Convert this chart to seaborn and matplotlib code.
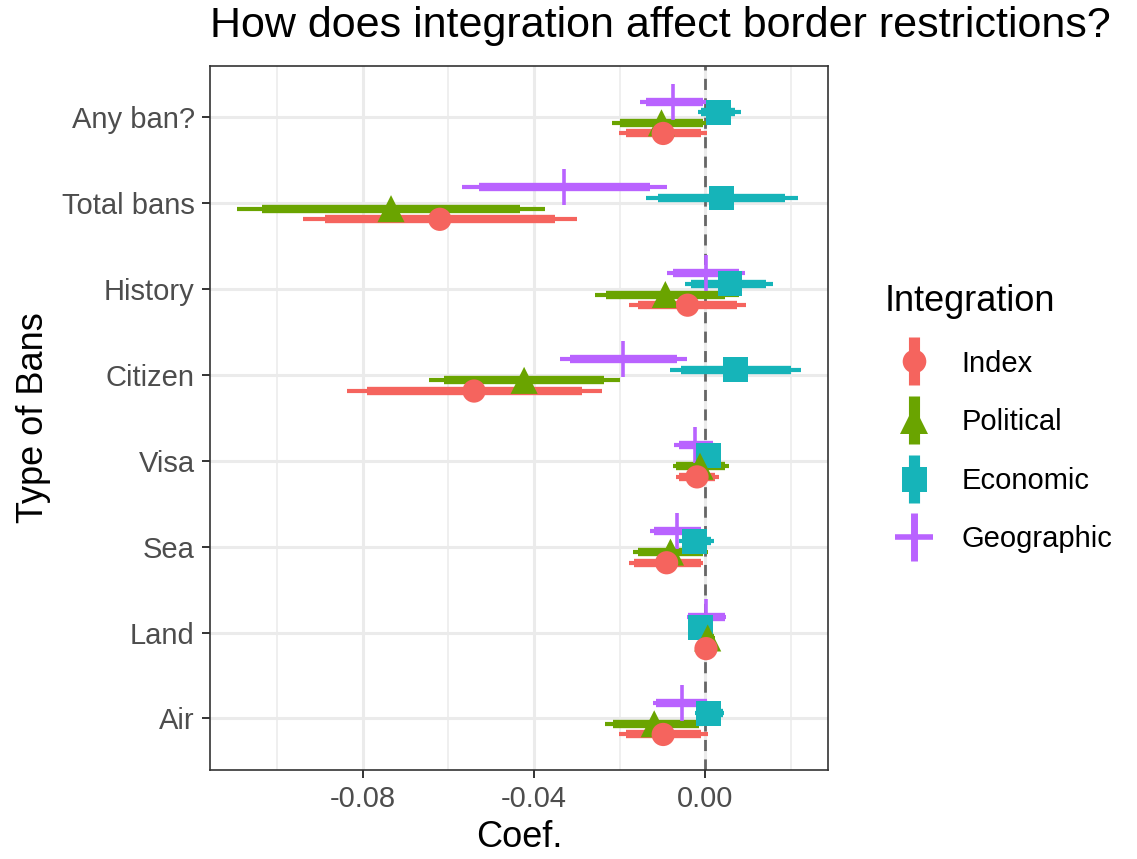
import matplotlib
matplotlib.use("Agg")
import matplotlib.pyplot as plt
from matplotlib.lines import Line2D
from matplotlib.legend_handler import HandlerTuple
import seaborn as sns
import pandas as pd

# ----------------------------------------
# data
# ----------------------------------------
bans = ["Any ban?", "Total bans", "History", "Citizen", "Visa", "Sea", "Land", "Air"]
groups = ["Index", "Political", "Economic", "Geographic"]

coef = {
    "Index":      [-0.0098, -0.0620, -0.0041, -0.0540, -0.0019, -0.0090, 0.0002, -0.0098],
    "Political":  [-0.0102, -0.0734, -0.0093, -0.0423, -0.0012, -0.0081, 0.0006, -0.0119],
    "Economic":   [0.0032, 0.0039, 0.0058, 0.0070, 0.0008, -0.0024, -0.0010, 0.0008],
    "Geographic": [-0.0075, -0.0329, 0.0002, -0.0192, -0.0023, -0.0065, 0.0002, -0.0055],
}
lo90 = {
    "Index":      [-0.0185, -0.0888, -0.0156, -0.0791, -0.0060, -0.0166, -0.0008, -0.0186],
    "Political":  [-0.0199, -0.1035, -0.0232, -0.0610, -0.0067, -0.0156, -0.0010, -0.0215],
    "Economic":   [-0.0010, -0.0111, -0.0032, -0.0057, -0.0015, -0.0055, -0.0035, -0.0020],
    "Geographic": [-0.0139, -0.0528, -0.0076, -0.0316, -0.0062, -0.0119, -0.0041, -0.0114],
}
hi90 = {
    "Index":      [-0.0010, -0.0352, 0.0075, -0.0288, 0.0024, -0.0010, 0.0012, -0.0010],
    "Political":  [-0.0006, -0.0433, 0.0046, -0.0236, 0.0046, -0.0006, 0.0020, -0.0015],
    "Economic":   [0.0070, 0.0187, 0.0143, 0.0200, 0.0032, 0.0013, 0.0015, 0.0041],
    "Geographic": [-0.0006, -0.0128, 0.0079, -0.0066, 0.0018, -0.0010, 0.0046, 0.0004],
}
lo95 = {
    "Index":      [-0.0202, -0.0939, -0.0178, -0.0838, -0.0069, -0.0179, -0.0010, -0.0202],
    "Political":  [-0.0218, -0.1093, -0.0258, -0.0646, -0.0076, -0.0168, -0.0012, -0.0234],
    "Economic":   [-0.0017, -0.0139, -0.0047, -0.0083, -0.0017, -0.0060, -0.0038, -0.0024],
    "Geographic": [-0.0152, -0.0568, -0.0090, -0.0340, -0.0072, -0.0130, -0.0043, -0.0123],
}
hi95 = {
    "Index":      [0.0004, -0.0300, 0.0096, -0.0241, 0.0032, -0.0004, 0.0014, 0.0006],
    "Political":  [0.0006, -0.0375, 0.0079, -0.0200, 0.0056, 0.0006, 0.0022, -0.0006],
    "Economic":   [0.0084, 0.0217, 0.0159, 0.0224, 0.0034, 0.0021, 0.0018, 0.0045],
    "Geographic": [0.0002, -0.0089, 0.0094, -0.0043, 0.0023, -0.0006, 0.0048, 0.0006],
}

palette = {"Index": "#F5645E", "Political": "#6AA400", "Economic": "#16B4B9", "Geographic": "#B963FF"}
markers = {"Index": "o", "Political": "^", "Economic": "s", "Geographic": "+"}
dodge = {"Index": 0.186, "Political": 0.062, "Economic": -0.062, "Geographic": -0.186}

rows = []
for g in groups:
    for i, b in enumerate(bans):
        rows.append({"ban": b, "group": g, "pos": i + dodge[g], "coef": coef[g][i],
                     "lo90": lo90[g][i], "hi90": hi90[g][i],
                     "lo95": lo95[g][i], "hi95": hi95[g][i]})
df = pd.DataFrame(rows)

# ----------------------------------------
# figure
# ----------------------------------------
sns.set_style("white")
plt.rcParams["font.family"] = ["Liberation Sans", "DejaVu Sans"]
plt.rcParams["text.color"] = "black"
plt.rcParams["axes.labelcolor"] = "black"

fig = plt.figure(figsize=(11.37, 8.59), dpi=100)
ax = fig.add_axes([0.1847, 0.1036, 0.5435, 0.8196])

# grid
for x in [-0.10, -0.06, -0.02, 0.02]:
    ax.axvline(x, color="#EBEBEB", lw=1.1, zorder=0)
for x in [-0.08, -0.04, 0.00]:
    ax.axvline(x, color="#EBEBEB", lw=2.2, zorder=0)
for y in range(len(bans)):
    ax.axhline(y, color="#EBEBEB", lw=2.2, zorder=0)

ax.axvline(0, color="#666666", lw=2.0, ls=(0, (4, 3)), zorder=1)

order = ["Geographic", "Economic", "Political", "Index"]
for g in order:
    sub = df[df["group"] == g]
    ax.hlines(sub["pos"], sub["lo95"], sub["hi95"], color=palette[g], lw=3.0, zorder=2)
    ax.hlines(sub["pos"], sub["lo90"], sub["hi90"], color=palette[g], lw=6.0, zorder=2)

sizes = {"Index": 280, "Political": 380, "Economic": 320, "Geographic": 700}
for g in order:
    sub = df[df["group"] == g]
    sns.scatterplot(data=sub, x="coef", y="pos", color=palette[g], marker=markers[g],
                    s=sizes[g], linewidth=2.6 if g == "Geographic" else 0,
                    edgecolor=palette[g] if g == "Geographic" else "none",
                    ax=ax, zorder=3, legend=False)

ax.set_xlim(-0.1157, 0.0287)
ax.set_ylim(len(bans) - 1 + 0.6, -0.6)
ax.set_xticks([-0.08, -0.04, 0.00])
ax.set_xticklabels(["-0.08", "-0.04", "0.00"])
ax.set_yticks(range(len(bans)))
ax.set_yticklabels(bans)
ax.tick_params(axis="both", which="major", labelsize=21, labelcolor="#4D4D4D",
               color="#333333", length=6, width=1.4, direction="out",
               bottom=True, left=True, pad=5)
for sp in ax.spines.values():
    sp.set_color("#333333")
    sp.set_linewidth(1.2)

ax.set_xlabel("Coef.", fontsize=26, labelpad=5)
ax.set_ylabel("Type of Bans", fontsize=26, labelpad=8)

fig.text(0.1847, 0.957, "How does integration affect border restrictions?",
         fontsize=31, ha="left", va="baseline")

# legend
handles = []
for g in groups:
    bar = Line2D([], [], color=palette[g], marker="|", markersize=34,
                 markeredgewidth=8 if g != "Geographic" else 5, linestyle="None")
    if g == "Geographic":
        pt = Line2D([], [], color=palette[g], marker="_", markersize=28,
                    markeredgewidth=4, linestyle="None")
    else:
        pt = Line2D([], [], color=palette[g], marker=markers[g],
                    markersize={"Index": 17, "Political": 20, "Economic": 18}[g],
                    markeredgewidth=0, linestyle="None")
    handles.append((bar, pt))

leg = fig.legend(handles, groups, title="Integration", loc="upper left",
                 bbox_to_anchor=(0.7784, 0.6695), frameon=False, fontsize=21,
                 title_fontsize=26, labelspacing=1.05, handlelength=2.0,
                 handletextpad=0.62, borderaxespad=0, borderpad=0,
                 handler_map={tuple: HandlerTuple(ndivide=1)})
leg._legend_box.align = "left"

plt.savefig("out.png", dpi=100)
